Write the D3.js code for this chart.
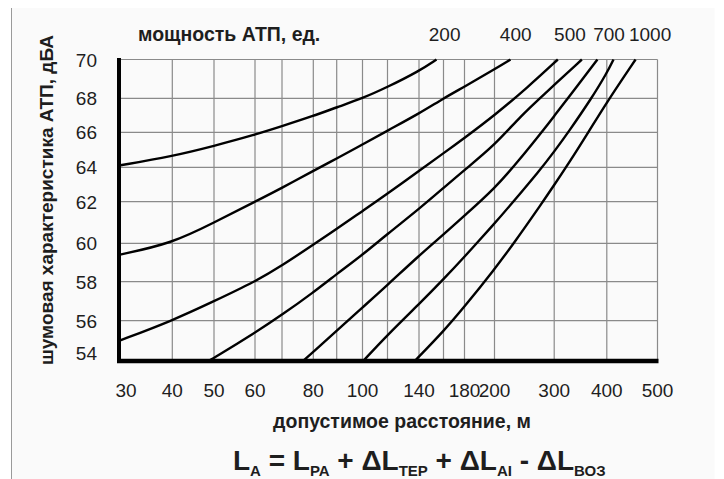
<!DOCTYPE html>
<html>
<head>
<meta charset="utf-8">
<script src="https://cdn.jsdelivr.net/npm/d3@7"></script>
<style>
  body { margin: 0; background: #fff; }
  text { font-family: "Liberation Sans", Arial, sans-serif; fill: #1e1e1e; }
</style>
</head>
<body>
<div id="chart"></div>
<script>
// distance ticks (m) and extra grid lines of the nomogram
const xTicks = [30, 40, 50, 60, 80, 100, 140, 180, 200, 300, 400, 500];
const xGrid = [30, 40, 50, 60, 70, 80, 90, 100, 120, 140, 160, 180, 200, 300, 400, 500];
// noise level ticks (dBA)
const yTicks = [70, 68, 66, 64, 62, 60, 58, 56, 54];

// curves: [distance, level]
const curve1 = [[30, 64.1], [40, 64.63], [50, 65.22], [60, 65.86], [70, 66.36], [80, 66.96], [90, 67.47], [100, 68.0], [120, 68.58], [140, 69.4], [154, 70]];
const curve2 = [[30, 59.4], [40, 60.0], [50, 61.0], [60, 62.0], [70, 62.8], [80, 63.8], [90, 64.5], [100, 65.3], [120, 66.1], [140, 67.1], [160, 68.0], [180, 68.6], [200, 69.5], [223, 70]];
const curve3 = [[30, 55.0], [40, 56.0], [50, 57.0], [60, 58.0], [70, 58.84], [80, 59.93], [90, 60.69], [100, 61.55], [120, 62.46], [140, 63.8], [160, 64.8], [180, 65.68], [200, 67.0], [250, 68.55], [306, 70]];
const curve4 = [[48.5, 54], [50, 54.15], [60, 55.4], [70, 56.3], [80, 57.45], [90, 58.4], [100, 59.4], [120, 60.45], [140, 61.65], [160, 62.8], [180, 63.85], [200, 65.25], [240, 67.0], [280, 68.2], [349, 70]];
const curve5 = [[76.6, 54], [80, 54.46], [90, 55.5], [100, 56.68], [120, 57.83], [140, 59.36], [160, 60.42], [180, 61.33], [200, 62.76], [235, 64.34], [282, 66.26], [300, 66.96], [327, 68.14], [380, 70]];
const curve6 = [[100.5, 54], [120, 55.3], [140, 56.85], [160, 58.13], [180, 59.3], [200, 60.95], [220, 61.73], [273, 63.86], [300, 64.9], [324, 66], [368, 68], [400, 69.3], [412, 70]];
const curve7 = [[137, 54], [140, 54.22], [160, 55.48], [180, 56.72], [200, 58.65], [228, 60], [276, 61.93], [300, 62.97], [324, 64.19], [362, 66.02], [400, 67.77], [454, 70]];
const curves = [curve1, curve2, curve3, curve4, curve5, curve6, curve7];

// power labels (units) and the distance they stand above
const powerLabels = ["200", "400", "500", "700", "1000"];
const powerAt = [161, 231, 327, 404, 484];

const w = 724, h = 479;

const svg = d3.select("#chart").append("svg")
  .attr("width", w)
  .attr("height", h)
  .style("display", "block");

// page panel
svg.append("rect")
  .attr("x", 11.5).attr("y", 8)
  .attr("width", 703).attr("height", h)
  .attr("fill", "#fafafa");
svg.append("line")
  .attr("x1", 11.5).attr("x2", 11.5)
  .attr("y1", 8).attr("y2", h)
  .attr("stroke", "#9a9a9a");

// the drawing's grid is hand spaced, so the scales are piecewise
const x = d3.scaleLog()
  .domain(xGrid)
  .range([119, 172.3, 214, 255, 282, 313.3, 336.7, 362.5, 387.5, 419, 443.5, 464.5, 494.5, 554.2, 606.8, 657.5]);

const y = d3.scaleLinear()
  .domain(yTicks)
  .range([59.5, 98.3, 132.3, 167.3, 201.7, 243.3, 281.7, 320.7, 361]);

const [x0, x1] = [x(xGrid[0]), x(xGrid[xGrid.length - 1])];
const [yTop, yBot] = [y(70), y(54)];

// grid
svg.append("g")
  .selectAll("line")
  .data(xGrid)
  .enter()
  .append("line")
  .attr("x1", d => x(d)).attr("x2", d => x(d))
  .attr("y1", yTop).attr("y2", yBot)
  .attr("stroke", "#8a8a8a")
  .attr("stroke-width", 1.2);

svg.append("g")
  .selectAll("line")
  .data(yTicks)
  .enter()
  .append("line")
  .attr("x1", x0).attr("x2", x1)
  .attr("y1", d => y(d)).attr("y2", d => y(d))
  .attr("stroke", "#8a8a8a")
  .attr("stroke-width", 1.2);

// thick axes
svg.append("line")
  .attr("x1", x0).attr("x2", x0)
  .attr("y1", yTop - 1.5).attr("y2", yBot + 2)
  .attr("stroke", "#000").attr("stroke-width", 4);
svg.append("line")
  .attr("x1", x0 - 2).attr("x2", x1 + 1)
  .attr("y1", yBot).attr("y2", yBot)
  .attr("stroke", "#000").attr("stroke-width", 4.5);

// curves (basis spline smooths the hand-read points)
const line = d3.line()
  .x(d => x(d[0]))
  .y(d => y(d[1]))
  .curve(d3.curveBasis);

svg.append("g")
  .selectAll("path")
  .data(curves)
  .enter()
  .append("path")
  .attr("d", line)
  .attr("fill", "none")
  .attr("stroke", "#000")
  .attr("stroke-width", 2.4);

// tick labels
svg.append("g")
  .selectAll("text")
  .data(xTicks)
  .enter()
  .append("text")
  .attr("x", d => x(d) + (d === 30 ? 7 : 0))
  .attr("y", 397)
  .attr("text-anchor", "middle")
  .style("font-size", "19px")
  .text(d => d);

svg.append("g")
  .selectAll("text")
  .data(yTicks)
  .enter()
  .append("text")
  .attr("x", 97)
  .attr("y", d => y(d) + 7 + (d === 54 ? -8 : 0))
  .attr("text-anchor", "end")
  .style("font-size", "19px")
  .text(d => d);

// power labels on top
svg.append("g")
  .selectAll("text")
  .data(powerLabels)
  .enter()
  .append("text")
  .attr("x", (d, i) => x(powerAt[i]))
  .attr("y", 40.5)
  .attr("text-anchor", "middle")
  .style("font-size", "19px")
  .text(d => d);

svg.append("text")
  .attr("x", 138)
  .attr("y", 40.5)
  .style("font-size", "19.5px")
  .style("font-weight", "bold")
  .text("мощность АТП, ед.");

// axis titles
svg.append("text")
  .attr("transform", "translate(53,200) rotate(-90)")
  .attr("text-anchor", "middle")
  .style("font-size", "19px")
  .style("font-weight", "bold")
  .text("шумовая характеристика АТП, дБА");

svg.append("text")
  .attr("x", 402)
  .attr("y", 428)
  .attr("text-anchor", "middle")
  .style("font-size", "19.5px")
  .style("font-weight", "bold")
  .text("допустимое расстояние, м");

// formula
const f = svg.append("text")
  .attr("x", 233)
  .attr("y", 470)
  .style("font-size", "28px")
  .style("font-weight", "bold");

const parts = [["L", "А"], [" = L", "РА"], [" + ΔL", "ТЕР"], [" + ΔL", "АI"], [" - ΔL", "ВОЗ"]];
parts.forEach((p, i) => {
  f.append("tspan")
    .attr("dy", i === 0 ? 0 : -6)
    .text(p[0]);
  f.append("tspan")
    .attr("dy", 6)
    .style("font-size", "15px")
    .text(p[1]);
});
</script>
</body>
</html>
